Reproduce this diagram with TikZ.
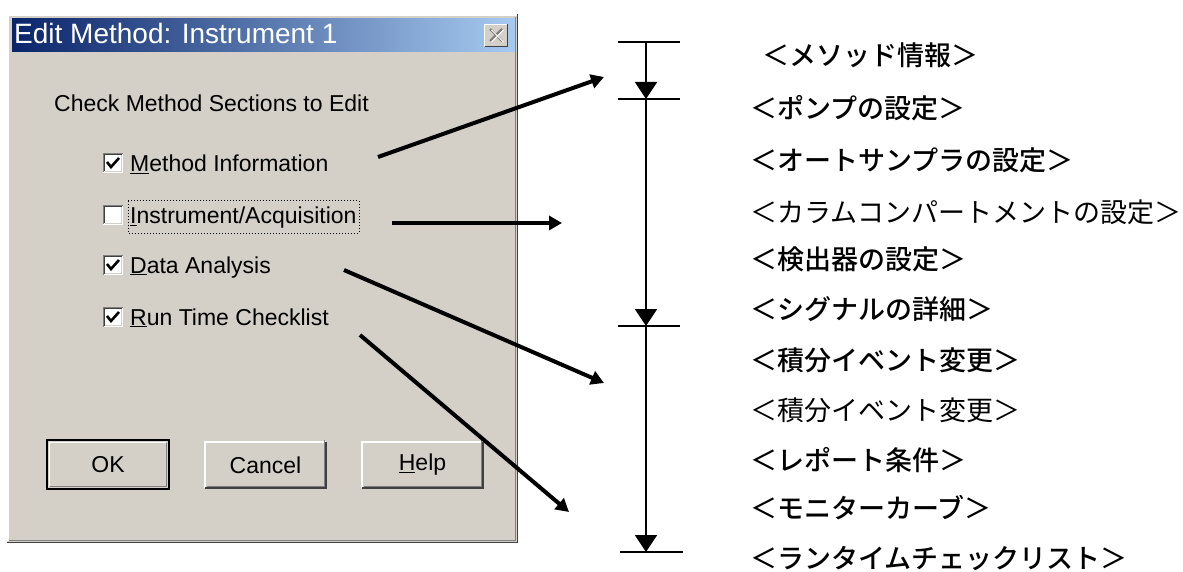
\documentclass[tikz,border=0pt]{standalone}
\usepackage{fontspec}
\setmainfont{Liberation Sans}
\newfontfamily\jp[BoldFont={* Medium}]{Noto Sans CJK JP}
\usetikzlibrary{arrows.meta}
\definecolor{face}{HTML}{D4D0C8}
\definecolor{navy}{HTML}{0A246A}
\definecolor{ltblue}{HTML}{A6CAF0}
\definecolor{dkgray}{HTML}{808080}
\definecolor{vdk}{HTML}{404040}
\begin{document}
\begin{tikzpicture}[x=1pt,y=-1pt,
  dlgtext/.style={font=\fontsize{23}{23}\selectfont, inner sep=0pt, anchor=base west, text=black},
  titletext/.style={font=\fontsize{28}{28}\selectfont, inner sep=0pt, anchor=base west, text=white},
  btn/.style={draw=none, fill=face, minimum width=121pt, minimum height=46pt, inner sep=0pt, font=\fontsize{23}{23}\selectfont},
  jptext/.style={font=\jp\fontsize{27}{27}\selectfont\bfseries, inner sep=0pt, anchor=west},
  jplight/.style={font=\jp\fontsize{27}{27}\selectfont, inner sep=0pt, anchor=west},
  pointer/.style={line width=4pt, -{Triangle[length=13pt,width=14pt]}},
  stepline/.style={line width=2pt, -{Triangle[length=17pt,width=22pt]}},
  tick/.style={line width=2.5pt},
  chk/.style={line width=2.6pt, line join=miter}
]
\useasboundingbox (0,0) rectangle (1183,572);
\fill[white] (0,0) rectangle (1183,572);

% ---- dialog window ----
\fill[face] (7,14) rectangle (518,542);
\draw[white, line width=1.5pt] (8,541) -- (8,15) -- (517,15);
\draw[vdk, line width=1.5pt] (517.5,14) -- (517.5,542.5) -- (7,542.5);
\draw[dkgray, line width=1.2pt] (515.5,17) -- (515.5,540.5) -- (9,540.5);
% title bar
\shade[left color=navy, right color=ltblue] (12,19) rectangle (515,52);
\node[titletext] (title) at (14,44) {Edit Method: Instrument 1};
% close button
\fill[face] (484,24) rectangle (508,47);
\draw[white, line width=1pt] (484.5,46.5) -- (484.5,24.5) -- (507.5,24.5);
\draw[vdk, line width=1pt] (507.5,24.5) -- (507.5,46.5) -- (484.5,46.5);
\draw[dkgray, line width=2.2pt] (490,29) -- (502,41) (502,29) -- (490,41);
\draw[white, line width=0.8pt] (491.5,30) -- (503.5,42) (503.5,30) -- (491.5,42);

\node[dlgtext] (heading) at (54,112) {Check Method Sections to Edit};

% checkboxes
\foreach \yy in {153,205,255,307}{
  \fill[white] (103,\yy) rectangle (123,\yy+20);
  \draw[dkgray, line width=1pt] (103.5,\yy+19.5) -- (103.5,\yy+0.5) -- (122.5,\yy+0.5);
  \draw[vdk, line width=1pt] (104.5,\yy+18.5) -- (104.5,\yy+1.5) -- (121.5,\yy+1.5);
  \draw[face, line width=1pt] (105,\yy+18.5) -- (121.5,\yy+18.5) -- (121.5,\yy+2);
}
\foreach \yy in {153,255,307}{
  \draw[chk] (107,\yy+9) -- (111,\yy+14) -- (119,\yy+5);
}
\node[dlgtext] (cb1) at (130,172) {\underline{M}ethod Information};
\node[dlgtext] (cb2) at (130,224) {\underline{I}nstrument/Acquisition};
\node[dlgtext] (cb3) at (130,273) {\underline{D}ata Analysis};
\node[dlgtext] (cb4) at (130,325) {\underline{R}un Time Checklist};
\draw[black, line width=1pt, dotted] (128,201) rectangle (359,233);

% buttons
\node[btn] (ok) at (108,464.5) {OK};
\draw[black, line width=2pt] (47,440) rectangle (169,489);
\draw[white, line width=1.2pt] (49.5,486) -- (49.5,442.5) -- (166,442.5);
\draw[dkgray, line width=1.2pt] (166.5,442.5) -- (166.5,486.5) -- (49.5,486.5);
\node[btn] (cancel) at (265.5,465) {Cancel};
\node[btn] (help) at (422.5,465) {\underline{H}elp};
\foreach \b in {cancel,help}{
  \draw[white, line width=1.5pt] (\b.south west) -- (\b.north west) -- (\b.north east);
  \draw[vdk, line width=1.5pt] (\b.north east) -- (\b.south east) -- (\b.south west);
  \draw[dkgray, line width=1pt] ([xshift=-2pt,yshift=2pt]\b.north east) -- ([xshift=-2pt,yshift=2pt]\b.south east) -- ([xshift=2pt,yshift=2pt]\b.south west);
}

% ---- timeline ----
\coordinate (t0) at (646,42);
\coordinate (t1) at (646,99);
\coordinate (t2) at (646,326);
\coordinate (t3) at (646,552);
\draw[stepline] (t0) -- (t1);
\draw[stepline] (t1) -- (t2);
\draw[stepline] (t2) -- (t3);
\draw[tick] ([xshift=-28pt]t0) -- ([xshift=34pt]t0);
\draw[tick] ([xshift=-28pt]t1) -- ([xshift=34pt]t1);
\draw[tick] ([xshift=-28pt]t2) -- ([xshift=34pt]t2);
\draw[tick] ([xshift=-26pt]t3) -- ([xshift=37pt]t3);

% ---- Japanese labels ----
\node[jptext] (j1) at (762,55) {＜メソッド情報＞};
\node[jptext] (j2) at (750,108) {＜ポンプの設定＞};
\node[jptext] (j3) at (750,160) {＜オートサンプラの設定＞};
\node[jplight] (j4) at (750,212) {＜カラムコンパートメントの設定＞};
\node[jptext] (j5) at (750,259) {＜検出器の設定＞};
\node[jptext] (j6) at (750,309) {＜シグナルの詳細＞};
\node[jptext] (j7) at (750,360) {＜積分イベント変更＞};
\node[jplight] (j8) at (750,410) {＜積分イベント変更＞};
\node[jptext] (j9) at (750,460) {＜レポート条件＞};
\node[jptext] (j10) at (750,508) {＜モニターカーブ＞};
\node[jptext] (j11) at (750,558) {＜ランタイムチェックリスト＞};

% ---- pointer arrows ----
\coordinate (a1s) at (378,157);
\coordinate (a1e) at (604,77);
\coordinate (a2s) at (392,223);
\coordinate (a2e) at (562,223);
\coordinate (a3s) at (344,270);
\coordinate (a3e) at (604,383);
\coordinate (a4s) at (360,335);
\coordinate (a4e) at (569,512);
\draw[pointer] (a1s) -- (a1e);
\draw[pointer] (a2s) -- (a2e);
\draw[pointer] (a3s) -- (a3e);
\draw[pointer] (a4s) -- (a4e);
\end{tikzpicture}
\end{document}
